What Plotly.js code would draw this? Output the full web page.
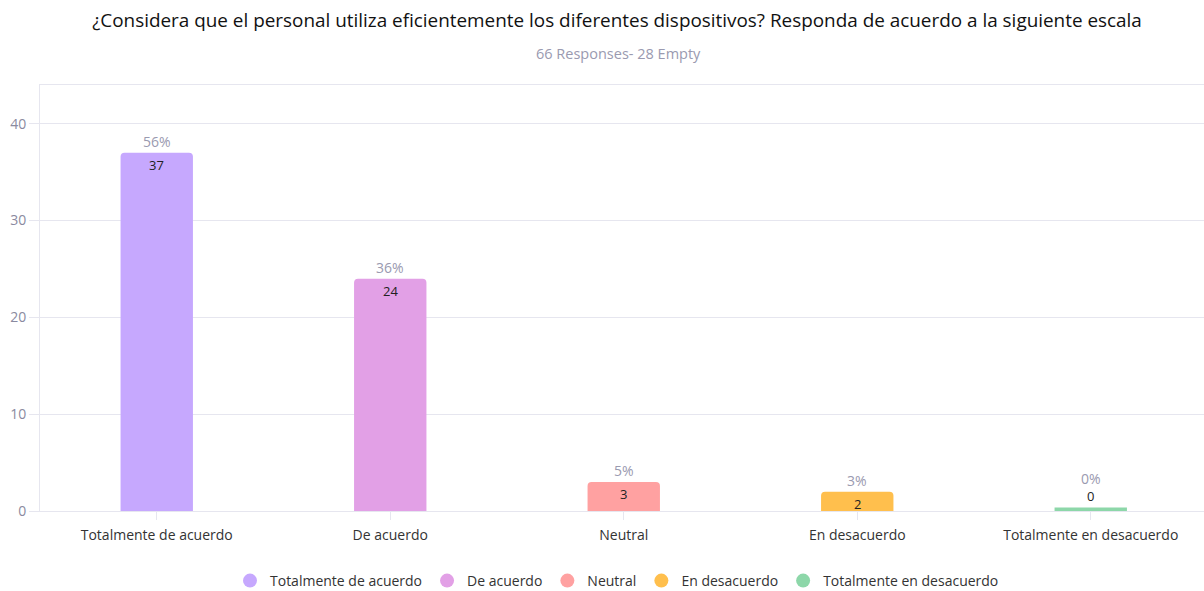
<!DOCTYPE html>
<html><head><meta charset="utf-8">
<script src="https://cdn.plot.ly/plotly-3.0.1.min.js"></script>
<style>body{margin:0;background:#fff}#chart{width:1204px;height:591px}</style>
</head><body><div id="chart"></div>
<script>
const categories = ["Totalmente de acuerdo", "De acuerdo", "Neutral", "En desacuerdo", "Totalmente en desacuerdo"];
const counts = [37, 24, 3, 2, 0];
const percents = ["56%", "36%", "5%", "3%", "0%"];
const colors = ["#c6a8fe", "#e2a0e6", "#ffa1a1", "#ffbf4d", "#8dd7a9"];
const yTicks = [0, 10, 20, 30, 40];

const FONT = "'Open Sans', 'Noto Sans', sans-serif";
const traces = [];
categories.forEach((c, i) => {
  traces.push({
    type: "bar", x: [c], y: [counts[i]], width: 0.31,
    marker: {color: colors[i], line: {color: colors[i], width: counts[i] === 0 ? 7 : 0}},
    showlegend: false, hoverinfo: "x+y", name: c
  });
});
categories.forEach((c, i) => {
  traces.push({
    type: "scatter", mode: "markers", x: [null], y: [null], name: c,
    marker: {color: colors[i], size: 14, symbol: "circle"}, showlegend: true
  });
});

const annotations = [];
categories.forEach((c, i) => {
  const zero = counts[i] === 0;
  annotations.push({x: c, y: counts[i], xref: "x", yref: "y", text: String(counts[i]),
    showarrow: false, yshift: zero ? 15 : -12, font: {family: FONT, size: 13, color: "#222"}});
  annotations.push({x: c, y: counts[i], xref: "x", yref: "y", text: percents[i],
    showarrow: false, yshift: zero ? 33 : 11, font: {family: FONT, size: 14, color: "#9a9ab0"}});
});
annotations.push({xref: "paper", yref: "paper", x: (618 - 40) / 1164, y: 1, yshift: 32, yanchor: "middle",
  text: "66 Responses- 28 Empty", showarrow: false, font: {family: FONT, size: 14.5, color: "#9a9ab0"}});

const layout = {
  width: 1204, height: 591,
  margin: {l: 40, r: 0, t: 85, b: 80},
  paper_bgcolor: "#fff", plot_bgcolor: "#fff",
  font: {family: FONT, size: 13, color: "#333"},
  title: {text: "¿Considera que el personal utiliza eficientemente los diferentes dispositivos? Responda de acuerdo a la siguiente escala",
    x: 617 / 1204, xref: "container", xanchor: "center", y: 1 - 20/591, yanchor: "middle",
    font: {family: FONT, size: 18.9, color: "#111"}},
  barmode: "overlay", barcornerradius: 4,
  xaxis: {type: "category", categoryarray: categories, range: [-0.5, 4.485],
    showline: true, mirror: true, linecolor: "#e6e6ef", linewidth: 1,
    ticks: "outside", ticklen: 8, tickcolor: "#e6e6ef", showgrid: false, automargin: false,
    ticklabelstandoff: 3,
    tickfont: {family: FONT, size: 14, color: "#333"}, fixedrange: true},
  yaxis: {range: [0, 44], tickvals: yTicks, showline: true, linecolor: "#e6e6ef", automargin: false,
    gridcolor: "#e6e6ef", zeroline: false, ticks: "outside", ticklen: 10, tickcolor: "#e6e6ef",
    tickfont: {family: FONT, size: 14, color: "#8a8aa0"}, fixedrange: true},
  legend: {orientation: "h", xref: "container", yref: "container", x: 617 / 1204, xanchor: "center",
    y: 10/591, yanchor: "middle",
    font: {family: FONT, size: 14, color: "#333"}, itemwidth: 30},
  annotations: annotations,
  showlegend: true
};
Plotly.newPlot("chart", traces, layout, {displayModeBar: false, staticPlot: true});
</script></body></html>
